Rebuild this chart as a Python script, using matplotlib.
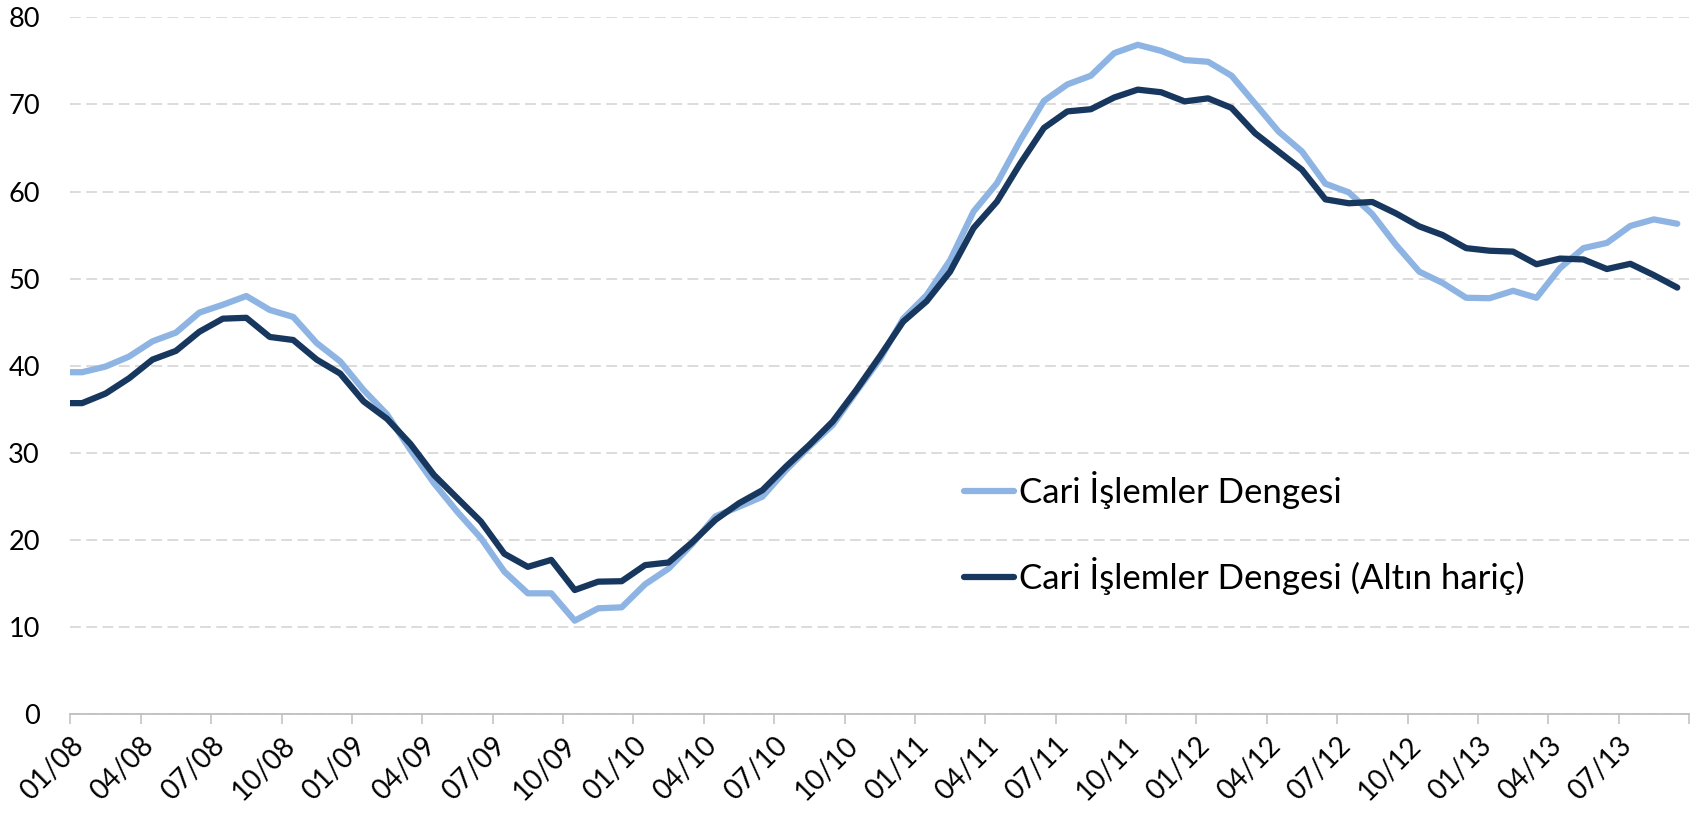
import numpy as np
import matplotlib
matplotlib.use("Agg")
import matplotlib.pyplot as plt

plt.rcParams['font.family'] = ['Lato', 'DejaVu Sans']

# monthly values, 01/2008 .. 09/2013
cari = [39.25, 39.9, 41.05, 42.8, 43.8, 46.1, 47.0, 48.0, 46.4, 45.6, 42.6, 40.5,
        37.2, 34.4, 30.3, 26.5, 23.2, 20.2, 16.35, 13.86, 13.86, 10.72, 12.14, 12.25,
        14.9, 16.7, 19.5, 22.7, 23.8, 24.96, 28.0, 30.7, 33.2, 37.0, 40.7, 45.4,
        48.1, 52.1, 57.7, 60.96, 65.9, 70.4, 72.3, 73.3, 75.9, 76.85, 76.15, 75.1,
        74.9, 73.3, 70.1, 66.9, 64.6, 60.9, 59.9, 57.4, 53.9, 50.8, 49.5, 47.8,
        47.75, 48.6, 47.8, 51.2, 53.5, 54.1, 56.05, 56.8, 56.3]

cari_altin_haric = [35.7, 36.8, 38.55, 40.7, 41.7, 43.9, 45.4, 45.5, 43.3, 42.95, 40.7, 39.1,
                    35.9, 33.9, 31.0, 27.45, 24.77, 22.1, 18.4, 16.9, 17.7, 14.24, 15.2, 15.25,
                    17.1, 17.4, 19.7, 22.3, 24.2, 25.7, 28.4, 30.9, 33.6, 37.2, 41.05, 45.06,
                    47.4, 50.8, 55.8, 58.85, 63.25, 67.3, 69.2, 69.45, 70.8, 71.7, 71.4, 70.35,
                    70.7, 69.6, 66.7, 64.6, 62.5, 59.1, 58.65, 58.8, 57.5, 56.0, 55.0, 53.5,
                    53.2, 53.1, 51.65, 52.3, 52.2, 51.1, 51.7, 50.4, 48.97]

tick_labels = ['01/08', '04/08', '07/08', '10/08',
               '01/09', '04/09', '07/09', '10/09',
               '01/10', '04/10', '07/10', '10/10',
               '01/11', '04/11', '07/11', '10/11',
               '01/12', '04/12', '07/12', '10/12',
               '01/13', '04/13', '07/13', '']

series_names = ['Cari İşlemler Dengesi', 'Cari İşlemler Dengesi (Altın hariç)']
colors = ['#8DB4E2', '#17375E']

fig = plt.figure(figsize=(17.04, 8.15), dpi=100)
ax = fig.add_axes([0.0413, 0.1239, 0.9499, 0.8548])

n = len(cari)
x = np.arange(n) + 0.5   # mid-month on a month axis
for vals, name, c in zip([cari, cari_altin_haric], series_names, colors):
    # line starts at the axis edge with the first value
    ax.plot(np.r_[0, x], np.r_[vals[0], vals], color=c, lw=4.5, label=name,
            solid_joinstyle='round', solid_capstyle='round', zorder=3)

ax.set_xlim(0, 69)
ax.set_ylim(0, 80)
ax.set_yticks(np.arange(0, 81, 10))
ax.set_xticks(np.arange(0, 70, 3))
ax.set_xticklabels(tick_labels, rotation=45, ha='right', rotation_mode='anchor')

ax.grid(axis='y', color='#D9D9D9', linestyle=(0, (6, 3)), linewidth=1.3)
ax.set_axisbelow(True)

for s in ['top', 'right', 'left']:
    ax.spines[s].set_visible(False)
ax.spines['bottom'].set_color('#BFBFBF')
ax.spines['bottom'].set_linewidth(1.3)
ax.tick_params(axis='y', length=0, pad=22, labelsize=19.5)
ax.tick_params(axis='x', direction='out', length=7, width=1.1, color='#BFBFBF',
               pad=6, labelsize=20)

leg = ax.legend(loc='center left', bbox_to_anchor=(0.5655, 0.346),
                bbox_transform=fig.transFigure, frameon=False, fontsize=25,
                handlelength=1.45, handletextpad=0.15, labelspacing=1.38,
                borderpad=0, borderaxespad=0)

fig.savefig('out.png', dpi=100)
